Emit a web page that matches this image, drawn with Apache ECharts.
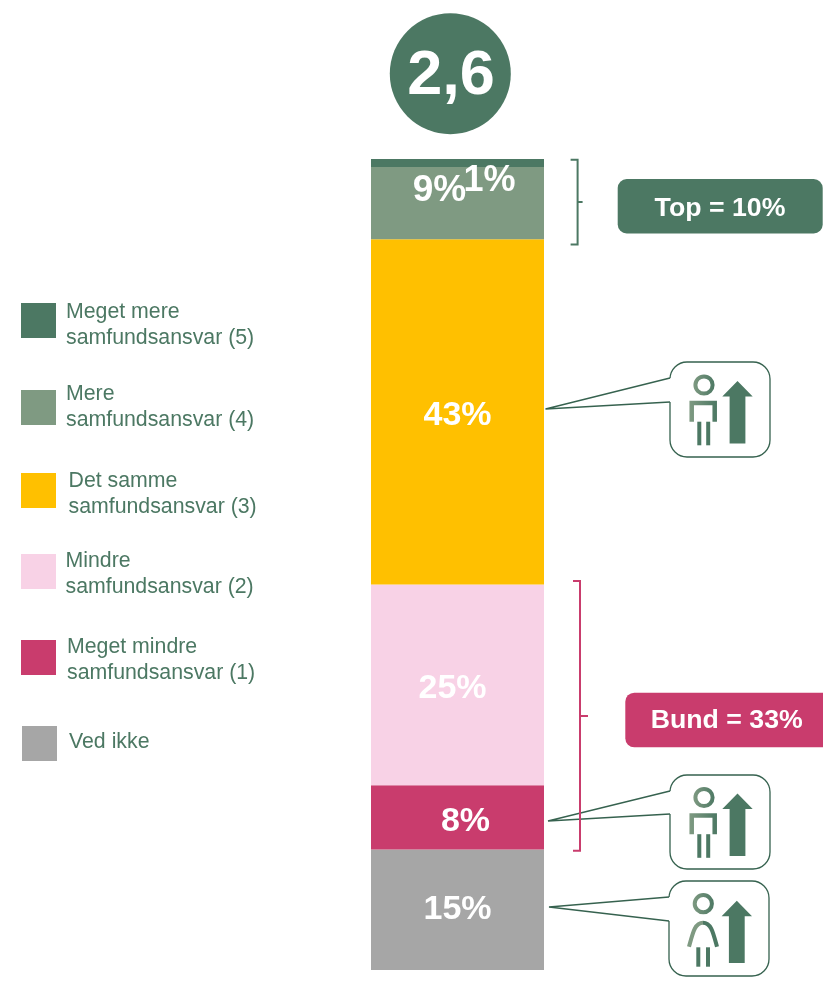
<!DOCTYPE html>
<html>
<head>
<meta charset="utf-8">
<title>Samfundsansvar</title>
<script src="https://cdn.jsdelivr.net/npm/echarts@6/dist/echarts.min.js"></script>
<style>
  html, body { margin: 0; padding: 0; background: #fff; }
  #chart { width: 823px; height: 995px; }
</style>
</head>
<body>
<div id="chart"></div>
<script>
// Data
const categories = ['Samfundsansvar'];
const meanScore = '2,6';
const topLabel = 'Top = 10%';
const bottomLabel = 'Bund = 33%';
const vedIkke = [15];
const megetMindre = [8];
const mindre = [25];
const detSamme = [43];
const mere = [9];
const megetMere = [1];

const GREEN = '#4c7863';
const SAGE = '#7f9a82';
const ROSE = '#c93c6d';
const LINE = '#36624f';
const FONT = '"Liberation Sans", Arial, sans-serif';

// Series run bottom to top. sq = legend square [x, y], textX/textY = anchor of the legend text
const seriesConfig = [
  { name: 'Ved ikke', data: vedIkke, color: '#a6a6a6', size: 34, offset: [0, 0], sq: [22, 726], textX: 69, textY: 742.5 },
  { name: 'Meget mindre\nsamfundsansvar (1)', data: megetMindre, color: ROSE, size: 34, offset: [8, 4], sq: [21, 640], textX: 67, textY: 660.5 },
  { name: 'Mindre\nsamfundsansvar (2)', data: mindre, color: '#f8d2e6', size: 34, offset: [-5, 4], sq: [21, 554], textX: 65.5, textY: 574.5 },
  { name: 'Det samme\nsamfundsansvar (3)', data: detSamme, color: '#ffc000', size: 34, offset: [0, 4], sq: [21, 473], textX: 68.5, textY: 494.5 },
  { name: 'Mere\nsamfundsansvar (4)', data: mere, color: SAGE, size: 37, offset: [-18, -12], sq: [21, 390], textX: 66, textY: 407.5 },
  { name: 'Meget mere\nsamfundsansvar (5)', data: megetMere, color: GREEN, size: 36, offset: [32, 18], sq: [21, 303], textX: 66, textY: 325.5 }
];

const series = seriesConfig.map(cfg => ({
  name: cfg.name,
  type: 'bar',
  stack: 'total',
  barWidth: '100%',
  data: cfg.data,
  itemStyle: { color: cfg.color },
  label: {
    show: true,
    position: 'inside',
    offset: cfg.offset,
    formatter: '{c}%',
    color: '#fff',
    fontFamily: FONT,
    fontWeight: 'bold',
    fontSize: cfg.size
  },
  emphasis: { disabled: true }
}));

// One legend per entry, the squares are not evenly spaced in the original.
// The legend draws the squares only, its text can not be moved off the square's centre.
const legends = seriesConfig.map(cfg => ({
  data: [cfg.name],
  left: cfg.sq[0],
  top: cfg.sq[1],
  icon: 'rect',
  itemWidth: 35,
  itemHeight: 35,
  padding: 0,
  selectedMode: false,
  formatter: () => ''
}));

const legendTexts = seriesConfig.map(cfg => ({
  type: 'text',
  x: cfg.textX,
  y: cfg.textY,
  style: {
    text: cfg.name,
    fill: GREEN,
    font: '21.3px ' + FONT,
    lineHeight: 26,
    align: 'left',
    verticalAlign: 'middle'
  }
}));

function bubble(x, y, w, h, tip, tailTop, tailBottom) {
  return [
    { type: 'rect', shape: { x, y, width: w, height: h, r: 17 }, style: { fill: '#fff', stroke: LINE, lineWidth: 1.3 } },
    { type: 'polygon', shape: { points: [[x + 1, tailTop], tip, [x + 1, tailBottom]] }, style: { fill: '#fff' } },
    { type: 'polyline', shape: { points: [[x, tailTop], tip, [x, tailBottom]] }, style: { fill: 'none', stroke: LINE, lineWidth: 1.3 } }
  ];
}

function strokeGradient() {
  return new echarts.graphic.LinearGradient(0, 0, 1, 0, [
    { offset: 0, color: SAGE },
    { offset: 1, color: GREEN }
  ]);
}

function arrow(tipX, tipY, bottom) {
  return {
    type: 'polygon',
    shape: {
      points: [[tipX, tipY], [tipX + 15.2, tipY + 15.5], [tipX + 7.9, tipY + 15.5], [tipX + 7.9, bottom],
        [tipX - 7.9, bottom], [tipX - 7.9, tipY + 15.5], [tipX - 15.2, tipY + 15.5]]
    },
    style: { fill: GREEN }
  };
}

function leg(x, top, bottom) {
  return { type: 'line', shape: { x1: x, y1: top, x2: x, y2: bottom }, style: { stroke: GREEN, lineWidth: 4 } };
}

function head(cx, cy) {
  return { type: 'circle', shape: { cx, cy, r: 8.6 }, style: { fill: 'none', stroke: strokeGradient(), lineWidth: 4 } };
}

function maleIcon(dy) {
  return [
    head(704, 385 + dy),
    { type: 'polyline', shape: { points: [[691.7, 421.7 + dy], [691.7, 403 + dy], [714.7, 403 + dy], [714.7, 421.7 + dy]] }, style: { fill: 'none', stroke: strokeGradient(), lineWidth: 4.5 } },
    leg(699.3, 421.7 + dy, 445.3 + dy),
    leg(708.2, 421.7 + dy, 445.3 + dy),
    arrow(737.5, 381 + dy, 443.5 + dy)
  ];
}

function femaleIcon() {
  const shoulder = (x1, cp1, cp2) => ({
    type: 'bezierCurve',
    shape: { x1, y1: 946.7, x2: 703, y2: 922.7, cpx1: cp1, cpy1: 932, cpx2: cp2, cpy2: 922.7 },
    style: { fill: 'none', stroke: x1 < 703 ? SAGE : GREEN, lineWidth: 4 }
  });
  return [
    head(703.3, 903.7),
    shoulder(689, 693, 695),
    shoulder(717, 713, 711),
    leg(698.3, 947.3, 966.7),
    leg(708, 947.3, 966.7),
    arrow(736.8, 900.7, 963)
  ];
}

function bracket(x, top, bottom, mid, tick, color) {
  return [
    { type: 'polyline', shape: { points: [[x - 7, top], [x, top], [x, bottom], [x - 7, bottom]] }, style: { fill: 'none', stroke: color, lineWidth: 2 } },
    { type: 'line', shape: { x1: x, y1: mid, x2: x + tick, y2: mid }, style: { stroke: color, lineWidth: 2 } }
  ];
}

function badge(x, y, w, h, color, text, textX, textY) {
  return [
    { type: 'rect', shape: { x, y, width: w, height: h, r: 9 }, style: { fill: color } },
    { type: 'text', x: textX, y: textY, style: { text, fill: '#fff', font: 'bold 26.7px ' + FONT, align: 'center', verticalAlign: 'middle' } }
  ];
}

const annotations = [
  ...legendTexts,
  { type: 'circle', shape: { cx: 450.3, cy: 73.7, r: 60.5 }, style: { fill: GREEN } },
  { type: 'text', x: 451, y: 77, style: { text: meanScore, fill: '#fff', font: 'bold 63px ' + FONT, align: 'center', verticalAlign: 'middle' } },
  ...badge(617.7, 179, 205, 54.5, GREEN, topLabel, 720, 208.5),
  ...badge(625.3, 692.7, 215, 54.6, ROSE, bottomLabel, 726.7, 720.5),
  ...bubble(670, 362, 100, 95, [545.5, 409], 378, 402),
  ...maleIcon(0),
  ...bubble(670, 775, 100, 94, [548, 821], 791, 814),
  ...maleIcon(412.5),
  ...bubble(669, 881, 100, 95, [549, 907], 897, 921),
  ...femaleIcon(),
  ...bracket(577.6, 159.7, 244.5, 202, 5, GREEN),
  ...bracket(580, 581, 850.7, 716, 8, ROSE)
];

const chart = echarts.init(document.getElementById('chart'), null, { renderer: 'canvas' });
chart.setOption({
  animation: false,
  backgroundColor: '#fff',
  tooltip: { show: false },
  legend: legends,
  grid: { left: 371, top: 159, width: 173, height: 811 },
  xAxis: { type: 'category', data: categories, show: false },
  yAxis: { type: 'value', min: 0, max: 101, show: false },
  series,
  graphic: { elements: annotations }
});

window.addEventListener('resize', () => chart.resize());
</script>
</body>
</html>
